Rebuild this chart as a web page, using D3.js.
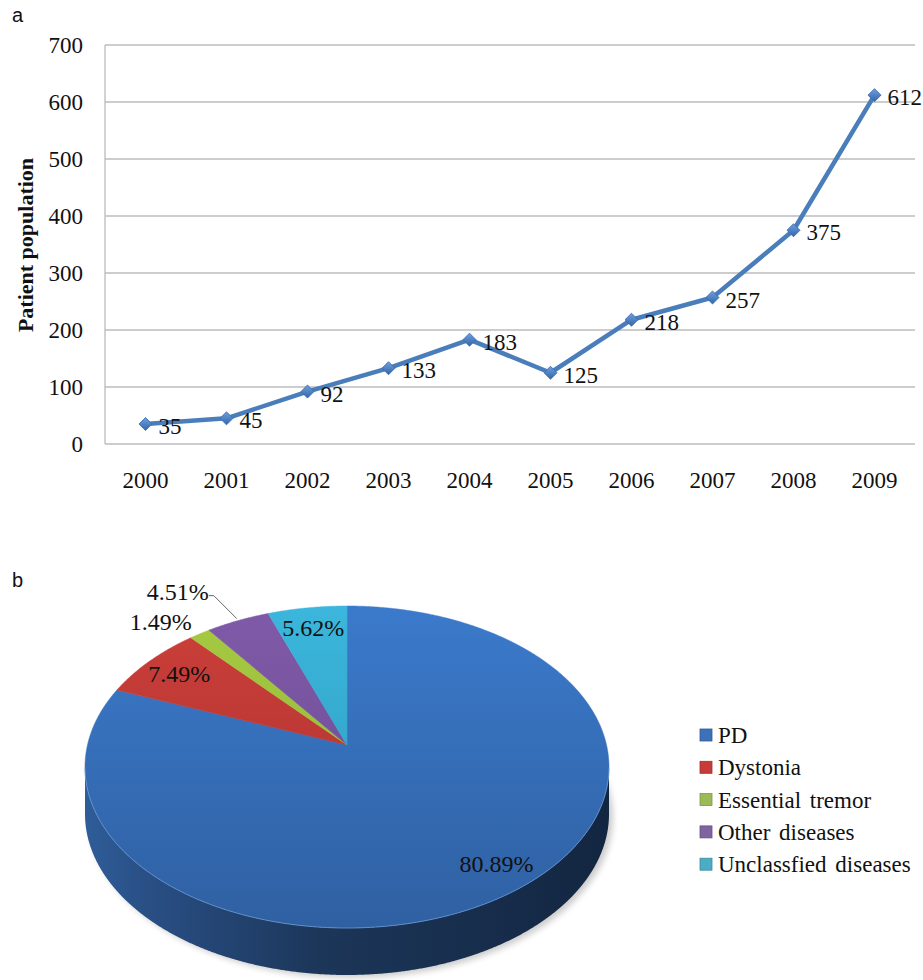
<!DOCTYPE html>
<html>
<head>
<meta charset="utf-8">
<script src="https://cdn.jsdelivr.net/npm/d3@7"></script>
<style>
  html, body { margin: 0; padding: 0; background: #fff; }
  svg { display: block; }
</style>
</head>
<body>
<script>
// ---- data ----
const years = ["2000", "2001", "2002", "2003", "2004", "2005", "2006", "2007", "2008", "2009"];
const patients = [35, 45, 92, 133, 183, 125, 218, 257, 375, 612];
const yTicks = [0, 100, 200, 300, 400, 500, 600, 700];

const diseases = ["PD", "Dystonia", "Essential tremor", "Other diseases", "Unclassfied diseases"];
const shares = [80.89, 7.49, 1.49, 4.51, 5.62];

// ---- styling ----
const SERIF = '"Liberation Serif", "Times New Roman", Times, serif';
const SANS = '"Liberation Sans", Arial, sans-serif';
const sliceTop = ["#3b7acb", "#cc3f3a", "#a6ca42", "#7f5aa8", "#3cb6dc"];
const sliceBottom = ["#2f60a2", "#a8312e", "#8fb235", "#694891", "#2a98b8"];
const legendFill = ["#3d72b8", "#c83b38", "#9bbb59", "#8064a2", "#4bacc6"];

const W = 923, H = 980;
const svg = d3.select("body").append("svg").attr("width", W).attr("height", H);
const defs = svg.append("defs");

const serifText = (sel, size) => sel.style("font-family", SERIF).style("font-size", size + "px").style("fill", "#111");

// ================= panel a: line chart =================
const plot = { left: 105, right: 915, top: 45, bottom: 444 };
const x = d3.scaleBand().domain(years).range([plot.left, plot.right]);
const y = d3.scaleLinear().domain([0, 700]).range([plot.bottom, plot.top]);
const cxOf = d => x(d) + x.bandwidth() / 2;

svg.append("text").attr("x", 12).attr("y", 22)
  .style("font-family", SANS).style("font-size", "20px").style("fill", "#111").text("a");

// horizontal gridlines
svg.append("g").selectAll("line").data(yTicks).join("line")
  .attr("x1", plot.left).attr("x2", plot.right)
  .attr("y1", d => y(d)).attr("y2", d => y(d))
  .attr("stroke", "#bcbcbc").attr("stroke-width", 1.3);
// left axis line
svg.append("line").attr("x1", plot.left).attr("x2", plot.left)
  .attr("y1", plot.top).attr("y2", plot.bottom)
  .attr("stroke", "#bcbcbc").attr("stroke-width", 1.3);

const yAxis = svg.append("g").attr("transform", `translate(${plot.left},0)`)
  .call(d3.axisLeft(y).tickValues(yTicks).tickSize(0).tickPadding(22));
yAxis.select(".domain").remove();
serifText(yAxis.selectAll("text"), 23);

const xAxis = svg.append("g").attr("transform", `translate(0,${plot.bottom})`)
  .call(d3.axisBottom(x).tickSize(0).tickPadding(28));
xAxis.select(".domain").remove();
serifText(xAxis.selectAll("text"), 23);

serifText(svg.append("text"), 22)
  .attr("transform", `translate(33,245) rotate(-90)`)
  .attr("text-anchor", "middle")
  .style("font-weight", "bold")
  .text("Patient population");

const series = years.map((yr, i) => ({ yr, v: patients[i] }));
svg.append("path").datum(series)
  .attr("fill", "none").attr("stroke", "#4a7ebb").attr("stroke-width", 4.5)
  .attr("stroke-linejoin", "round")
  .attr("d", d3.line().x(d => cxOf(d.yr)).y(d => y(d.v)));

const mg = defs.append("linearGradient").attr("id", "markerGrad")
  .attr("x1", 0).attr("y1", 0).attr("x2", 1).attr("y2", 1);
mg.append("stop").attr("offset", "0%").attr("stop-color", "#6f9fe0");
mg.append("stop").attr("offset", "100%").attr("stop-color", "#3466a8");

svg.append("g").selectAll("path").data(series).join("path")
  .attr("d", d3.symbol(d3.symbolSquare, 85)())
  .attr("transform", d => `translate(${cxOf(d.yr)},${y(d.v)}) rotate(45)`)
  .attr("fill", "url(#markerGrad)").attr("stroke", "#3a6cae").attr("stroke-width", 0.8);

serifText(svg.append("g").selectAll("text").data(series).join("text"), 23)
  .attr("x", d => cxOf(d.yr) + 13).attr("y", d => y(d.v) + 10)
  .text(d => d.v);

// ================= panel b: 3D pie =================
svg.append("text").attr("x", 12).attr("y", 587)
  .style("font-family", SANS).style("font-size", "20px").style("fill", "#111").text("b");

const P = { cx: 347, cy: 767, rx: 262, ry: 161, apexOff: -22, depth: 47 };
const apex = [P.cx, P.cy + P.apexOff];

// point on the top rim reached from the apex along pie angle a (clockwise from 12 o'clock)
function rimPoint(a) {
  const dx = P.rx * Math.sin(a), dy = -P.ry * Math.cos(a), o = P.apexOff;
  const A = (dx / P.rx) ** 2 + (dy / P.ry) ** 2;
  const B = 2 * o * dy / (P.ry * P.ry);
  const C = (o / P.ry) ** 2 - 1;
  const t = (-B + Math.sqrt(B * B - 4 * A * C)) / (2 * A);
  return [apex[0] + dx * t, apex[1] + dy * t];
}
function rimPoints(a0, a1) {
  const n = Math.max(2, Math.ceil((a1 - a0) / (Math.PI / 720)));
  return d3.range(n + 1).map(i => rimPoint(a0 + (a1 - a0) * i / n));
}

const arcs = d3.pie().sort(null).value(d => d)(shares);

// gradients
shares.forEach((s, i) => {
  const g = defs.append("linearGradient").attr("id", "top" + i)
    .attr("gradientUnits", "userSpaceOnUse")
    .attr("x1", 0).attr("y1", P.cy - P.ry).attr("x2", 0).attr("y2", P.cy + P.ry);
  g.append("stop").attr("offset", "0%").attr("stop-color", sliceTop[i]);
  g.append("stop").attr("offset", "100%").attr("stop-color", sliceBottom[i]);
});
const wg = defs.append("linearGradient").attr("id", "wall")
  .attr("gradientUnits", "userSpaceOnUse")
  .attr("x1", P.cx - P.rx).attr("y1", 0).attr("x2", P.cx + P.rx).attr("y2", 0);
wg.append("stop").attr("offset", "0%").attr("stop-color", "#2f5d99");
wg.append("stop").attr("offset", "12%").attr("stop-color", "#294f85");
wg.append("stop").attr("offset", "45%").attr("stop-color", "#1c3659");
wg.append("stop").attr("offset", "100%").attr("stop-color", "#132641");

const blur = defs.append("filter").attr("id", "soft").attr("x", "-20%").attr("y", "-20%")
  .attr("width", "140%").attr("height", "140%");
blur.append("feGaussianBlur").attr("stdDeviation", 3);

// soft drop shadow
svg.append("ellipse").attr("cx", P.cx + 4).attr("cy", P.cy + P.depth + 3)
  .attr("rx", P.rx).attr("ry", P.ry).attr("fill", "#000").attr("opacity", 0.2)
  .attr("filter", "url(#soft)");

// side wall: the front half of each slice's rim
const wallG = svg.append("g");
arcs.forEach((a, i) => {
  const pts = rimPoints(a.startAngle, a.endAngle).filter(p => p[1] >= P.cy - 0.5);
  if (pts.length < 2) return;
  const lower = pts.slice().reverse().map(p => [p[0], p[1] + P.depth]);
  wallG.append("path")
    .attr("d", "M" + pts.concat(lower).map(p => p.join(",")).join("L") + "Z")
    .attr("fill", i === 0 ? "url(#wall)" : sliceBottom[i]);
});

// top faces
const topG = svg.append("g");
arcs.forEach((a, i) => {
  const pts = [apex].concat(rimPoints(a.startAngle, a.endAngle));
  topG.append("path")
    .attr("d", "M" + pts.map(p => p.join(",")).join("L") + "Z")
    .attr("fill", `url(#top${i})`)
    .attr("stroke", `url(#top${i})`).attr("stroke-width", 0.5);
});

// light edge along the front rim
const front = arcs.flatMap(a => rimPoints(a.startAngle, a.endAngle)).filter(p => p[1] >= P.cy);
svg.append("path")
  .attr("d", d3.line()(front.sort((p, q) => p[0] - q[0])))
  .attr("fill", "none").attr("stroke", "#6f9fdc").attr("stroke-width", 1).attr("opacity", 0.7);

// value labels
const fmt = v => v.toFixed(2) + "%";
const labelG = svg.append("g");
arcs.forEach((a, i) => {
  if (a.value < 5) return;
  const mid = (a.startAngle + a.endAngle) / 2;
  const r = rimPoint(mid);
  const f = 0.85;
  const lx = apex[0] + f * (r[0] - apex[0]) + (i === 0 ? 10 : 0);
  const ly = apex[1] + f * (r[1] - apex[1]) + (i === 0 ? -6 : 0);
  serifText(labelG.append("text"), 24)
    .attr("text-anchor", "middle").attr("x", lx).attr("y", ly + 8).text(fmt(a.value));
});
// outside labels for the thin slices
arcs.filter(a => a.value < 5).forEach(a => {
  const mid = (a.startAngle + a.endAngle) / 2;
  const r = rimPoint(mid);
  if (a.value < 2) {
    serifText(labelG.append("text"), 24)
      .attr("text-anchor", "end").attr("x", r[0] - 8).attr("y", r[1] - 4).text(fmt(a.value));
  } else {
    const elbow = [r[0] - 24, r[1] - 25];
    labelG.append("path")
      .attr("d", d3.line()([[r[0] - 1, r[1] - 2], elbow, [elbow[0] - 5, elbow[1]]]))
      .attr("fill", "none").attr("stroke", "#555").attr("stroke-width", 0.9);
    serifText(labelG.append("text"), 24)
      .attr("text-anchor", "end").attr("x", elbow[0] - 5).attr("y", elbow[1] + 4).text(fmt(a.value));
  }
});

// legend
const lg = svg.append("g").attr("transform", "translate(700,735)");
const rows = lg.selectAll("g").data(diseases).join("g")
  .attr("transform", (d, i) => `translate(0,${i * 32.3})`);
rows.append("rect").attr("x", 0).attr("y", -6).attr("width", 12).attr("height", 12)
  .attr("fill", (d, i) => legendFill[i])
  .attr("stroke", (d, i) => d3.color(legendFill[i]).darker(0.6)).attr("stroke-width", 0.8);
serifText(rows.append("text"), 23).style("word-spacing", "3px")
  .attr("x", 18).attr("y", 8).text(d => d);
</script>
</body>
</html>
